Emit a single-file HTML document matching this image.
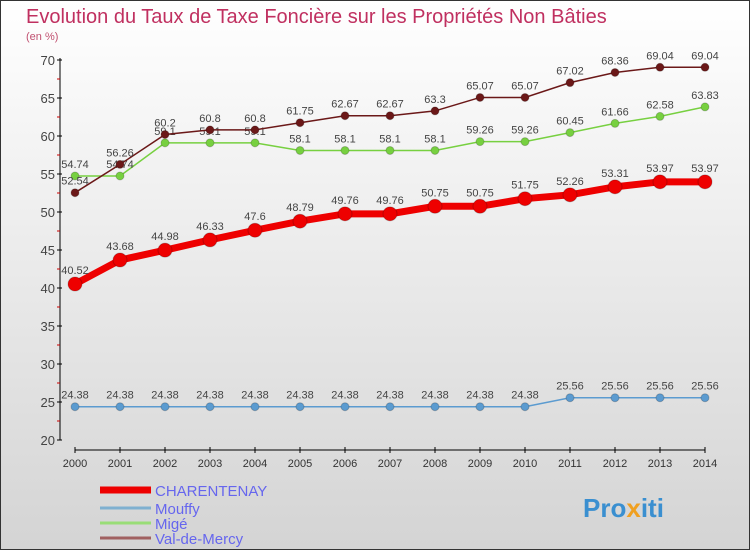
<!DOCTYPE html>
<html><head><meta charset="utf-8"><style>
html,body{margin:0;padding:0}
body{width:750px;height:550px;overflow:hidden;font-family:"Liberation Sans",sans-serif}
</style></head><body>
<svg id="c" width="750" height="550" xmlns="http://www.w3.org/2000/svg">
<defs><linearGradient id="bg" x1="0" y1="0" x2="0" y2="1"><stop offset="0" stop-color="#ffffff"/><stop offset="1" stop-color="#d4d4d4"/></linearGradient></defs>
<rect x="0.5" y="0.5" width="749" height="549" fill="url(#bg)" stroke="#333"/>
<text x="26" y="23" font-size="20" fill="#c03060">Evolution du Taux de Taxe Foncière sur les Propriétés Non Bâties</text>
<text x="26" y="40" font-size="11" fill="#c05070">(en %)</text>
<g id="axes"></g><g id="series"></g><g id="legend"></g>
<text x="583" y="517" font-size="26" font-weight="bold" fill="#3a8fd0">Pro<tspan fill="#f0a020">x</tspan>iti</text>
</svg>
<script>
const years=[2000,2001,2002,2003,2004,2005,2006,2007,2008,2009,2010,2011,2012,2013,2014];
const yTicks=[20,25,30,35,40,45,50,55,60,65,70];
const charentenay=[40.52,43.68,44.98,46.33,47.6,48.79,49.76,49.76,50.75,50.75,51.75,52.26,53.31,53.97,53.97];
const mouffy=[24.38,24.38,24.38,24.38,24.38,24.38,24.38,24.38,24.38,24.38,24.38,25.56,25.56,25.56,25.56];
const mige=[54.74,54.74,59.1,59.1,59.1,58.1,58.1,58.1,58.1,59.26,59.26,60.45,61.66,62.58,63.83];
const valdemercy=[52.54,56.26,60.2,60.8,60.8,61.75,62.67,62.67,63.3,65.07,65.07,67.02,68.36,69.04,69.04];
const NS="http://www.w3.org/2000/svg";
const X=i=>75+i*45, Y=v=>440-(v-20)*7.6;
function mk(t,a,p){const e=document.createElementNS(NS,t);for(const k in a)e.setAttribute(k,a[k]);(p||document.getElementById('series')).appendChild(e);return e;}
const ax=document.getElementById('axes');
let e=mk('line',{x1:60,y1:58,x2:60,y2:440,stroke:'#000'},ax);


e=mk('line',{x1:75,y1:450,x2:705,y2:450,stroke:'#000'},ax);


yTicks.forEach((v,i)=>{mk('line',{x1:57,y1:Y(v),x2:62,y2:Y(v),stroke:'#000'},ax);
 if(i<yTicks.length-1)mk('line',{x1:57,y1:Y(v+2.5),x2:60,y2:Y(v+2.5),stroke:'#c00'},ax);
 const t=mk('text',{x:55,y:Y(v)+5,'text-anchor':'end','font-size':13,fill:'#444'},ax);t.textContent=v;
 
 });
years.forEach((y,i)=>{mk('line',{x1:X(i),y1:447,x2:X(i),y2:453,stroke:'#000'},ax);
 const t=mk('text',{x:X(i),y:467,'text-anchor':'middle','font-size':11,fill:'#333'},ax);t.textContent=y;
 
 });
function series(d,color,w,r,name,lab,fmt){
 const g=mk('g',{});
 
 
 mk('polyline',{points:d.map((v,i)=>X(i)+','+Y(v)).join(' '),fill:'none',stroke:color,'stroke-width':w},g);
 d.forEach((v,i)=>{const c=mk('circle',{cx:X(i),cy:Y(v),r:r,fill:color,stroke:'#0003'},g);
  
  
  const t=mk('text',{x:X(i),y:Y(v)+lab,'text-anchor':'middle','font-size':11,fill:'#444'},g);t.textContent=String(v);
  
  });
}
series(mouffy,'#5b9bd0',1.5,4,'mouffy',-8);
series(mige,'#77d040',1.5,4,'mige',-8);
series(valdemercy,'#6b1818',1.5,4,'val-de-mercy',-8);
series(charentenay,'#ee0000',7,7,'charentenay',-10);
const lg=document.getElementById('legend');
[['CHARENTENAY','#ee0000',7],['Mouffy','#7fb0d0',3],['Migé','#99dd77',3],['Val-de-Mercy','#a06060',3]].forEach((s,i)=>{
 const y=[490,508,523,538][i];
 const l=mk('line',{x1:100,y1:y,x2:151,y2:y,stroke:s[1],'stroke-width':s[2]},lg);
 
 
 const t=mk('text',{x:155,y:y+6,'font-size':15,fill:'#6666ee'},lg);t.textContent=s[0];
 
 
});
</script>
</body></html>
